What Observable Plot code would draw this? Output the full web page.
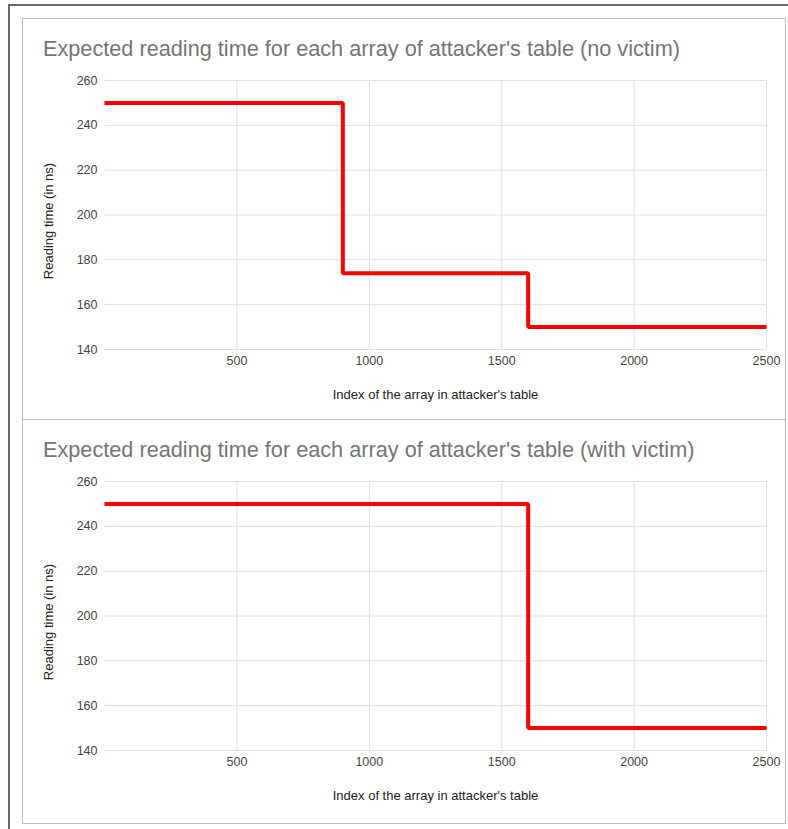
<!DOCTYPE html>
<html>
<head>
<meta charset="utf-8">
<script src="https://cdn.jsdelivr.net/npm/d3@7"></script>
<script src="https://cdn.jsdelivr.net/npm/@observablehq/plot@0.6"></script>
<style>
  body { margin: 0; background: #fff; font-family: Arial, "Liberation Sans", sans-serif; }
  #outer { position: absolute; left: 8px; top: 4px; width: 800px; height: 840px;
           border-top: 2px solid #6a6a6a; border-left: 2px solid #6a6a6a; box-sizing: border-box; }
  .panel { position: absolute; left: 22px; width: 764px; border: 1px solid #bdbdbd; box-sizing: border-box; background: #fff; }
  .title { position: absolute; left: 20px; top: 17px; font-size: 21.7px; color: #757575; white-space: nowrap;
           font-family: Arial, "Liberation Sans", sans-serif; }
  .panel svg { position: absolute; left: 0; top: 0; }
</style>
</head>
<body>
<div id="outer"></div>
<div class="panel" id="p1" style="top:18px;height:402px;"></div>
<div class="panel" id="p2" style="top:419px;height:405px;"></div>
<script>
const titles = [
  "Expected reading time for each array of attacker's table (no victim)",
  "Expected reading time for each array of attacker's table (with victim)"
];
const xLabel = "Index of the array in attacker's table";
const yLabel = "Reading time (in ns)";
const xTicks = [500, 1000, 1500, 2000, 2500];
const yTicks = [140, 160, 180, 200, 220, 240, 260];

const noVictimIndex = [0, 900, 1600, 2500];
const noVictimTime = [250, 174, 150, 150];
const withVictimIndex = [0, 1600, 2500];
const withVictimTime = [250, 150, 150];

function makePanel(el, title, xs, ys, h) {
  const data = xs.map((x, i) => ({x, y: ys[i]}));
  const chart = Plot.plot({
    width: 762,
    height: h,
    marginLeft: 81,
    marginRight: 19,
    marginTop: 61,
    marginBottom: h - 330,
    style: {fontFamily: "Arial, 'Liberation Sans', sans-serif", background: "transparent"},
    x: {domain: [0, 2500], ticks: xTicks, label: null},
    y: {domain: [140, 260], ticks: yTicks, label: null},
    marks: [
      Plot.gridY(yTicks, {stroke: "#e0e0e0", strokeOpacity: 1}),
      Plot.gridX(xTicks, {stroke: "#e0e0e0", strokeOpacity: 1}),
      Plot.axisX(xTicks, {tickSize: 0, tickPadding: 7, fontSize: 12.5, fill: "#444", tickFormat: d3.format("d")}),
      Plot.axisY(yTicks, {tickSize: 0, tickPadding: 7, fontSize: 12.5, fill: "#444", tickFormat: d3.format("d")}),
      Plot.line(data, {x: "x", y: "y", curve: "step-after", stroke: "#ff0000", strokeWidth: 4,
                       strokeLinejoin: "miter", strokeLinecap: "butt"}),
      Plot.text([xLabel], {text: d => d, frameAnchor: "bottom", dy: 45, lineAnchor: "middle",
                           textAnchor: "middle", fontSize: 13, fill: "#222"}),
      Plot.text([yLabel], {text: d => d, frameAnchor: "left", dx: -56, dy: 6, rotate: -90,
                           lineAnchor: "middle", textAnchor: "middle", fontSize: 13, fill: "#222"})
    ]
  });
  el.appendChild(chart);
  const t = document.createElement("div");
  t.className = "title";
  t.textContent = title;
  el.appendChild(t);
}

makePanel(document.getElementById("p1"), titles[0], noVictimIndex, noVictimTime, 400);
makePanel(document.getElementById("p2"), titles[1], withVictimIndex, withVictimTime, 403);
</script>
</body>
</html>
